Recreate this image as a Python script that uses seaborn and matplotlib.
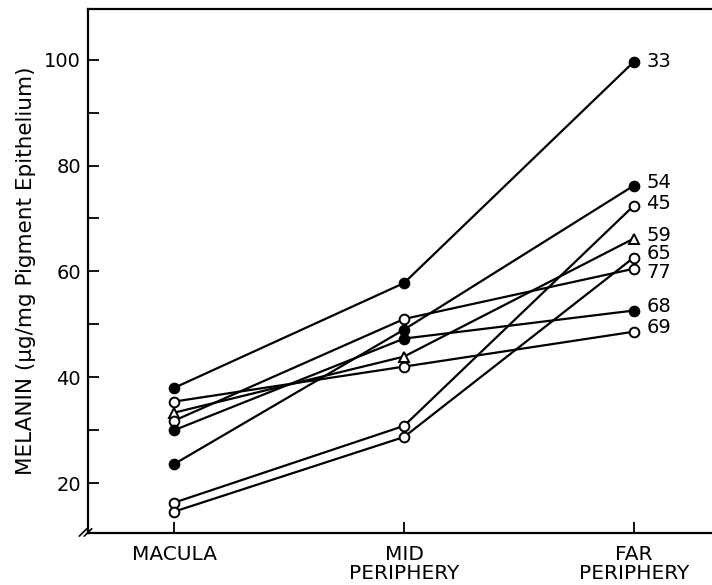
import numpy as np
import pandas as pd
import matplotlib
matplotlib.use('Agg')
from matplotlib import pyplot as plt
import seaborn as sns
from matplotlib.ticker import MultipleLocator

# regions along the retina
regions = ['MACULA', 'MID\nPERIPHERY', 'FAR\nPERIPHERY']

# donor age (label) and melanin per region
ages = ['33', '54', '45', '59', '65', '77', '68', '69']
macula = [38.0, 23.6, 16.3, 33.3, 14.6, 31.8, 30.0, 35.4]
mid = [57.8, 49.0, 30.8, 43.9, 28.7, 51.0, 47.3, 42.0]
far = [99.6, 76.2, 72.4, 66.2, 62.6, 60.5, 52.6, 48.6]
symbol = ['filled', 'filled', 'open', 'triangle', 'open', 'open', 'filled', 'open']

# small vertical nudges (points) for the age labels so they don't collide
label_nudge = [0, 2, 2, 2, 3, -3, 3, 3]

sns.set_style('ticks')
plt.rcParams['font.family'] = ['DejaVu Sans']
plt.rcParams['font.size'] = 14
plt.rcParams['ytick.direction'] = 'in'
plt.rcParams['xtick.direction'] = 'in'
for k in ['axes.edgecolor', 'text.color', 'axes.labelcolor', 'xtick.color', 'ytick.color']:
    plt.rcParams[k] = 'black'

rows = []
for i, a in enumerate(ages):
    for j, v in enumerate([macula[i], mid[i], far[i]]):
        rows.append({'age': a, 'region': j, 'melanin': v, 'symbol': symbol[i]})
df = pd.DataFrame(rows)

fig = plt.figure(figsize=(7.12, 5.85), dpi=100)
ax = fig.add_axes([0.1236, 0.0889, 0.8764, 0.8957])

mk = {'filled': ('o', 'black'), 'open': ('o', 'white'), 'triangle': ('^', 'white')}
for a in ages:
    sub = df[df['age'] == a]
    m, fc = mk[sub['symbol'].iloc[0]]
    sns.lineplot(data=sub, x='region', y='melanin', ax=ax, color='black', lw=1.6,
                 marker=m, markersize=7, markerfacecolor=fc, markeredgecolor='black',
                 markeredgewidth=1.4, sort=False, errorbar=None, legend=False)

for i, a in enumerate(ages):
    ax.annotate(a, (2, far[i]), xytext=(9, label_nudge[i]), textcoords='offset points',
                va='center', ha='left', fontsize=14, annotation_clip=False)

ax.set_xlim(-0.376, 2.341)
ax.set_ylim(10.55, 109.6)
ax.set_xticks(range(len(regions)), regions, linespacing=1.0)
ax.set_yticks([20, 40, 60, 80, 100])
ax.yaxis.set_minor_locator(MultipleLocator(10))
ax.tick_params(axis='both', which='both', length=8, width=1.3, labelsize=14)
ax.tick_params(axis='x', pad=9, labelsize=14.5)
ax.tick_params(axis='y', pad=5)
ax.set_xlabel(None)
ax.set_ylabel('MELANIN (μg/mg Pigment Epithelium)', fontsize=15.5, labelpad=6)

for s in ['left', 'bottom', 'top']:
    ax.spines[s].set_linewidth(1.6)
ax.spines['right'].set_visible(False)

# axis break marks at the bottom of the y axis
tr = ax.transAxes
for dx in (-0.008, 0.0):
    ax.plot([dx - 0.006, dx + 0.006], [-0.006, 0.008], transform=tr, color='black',
            lw=1.2, clip_on=False)

plt.savefig('out.png', dpi=100)
